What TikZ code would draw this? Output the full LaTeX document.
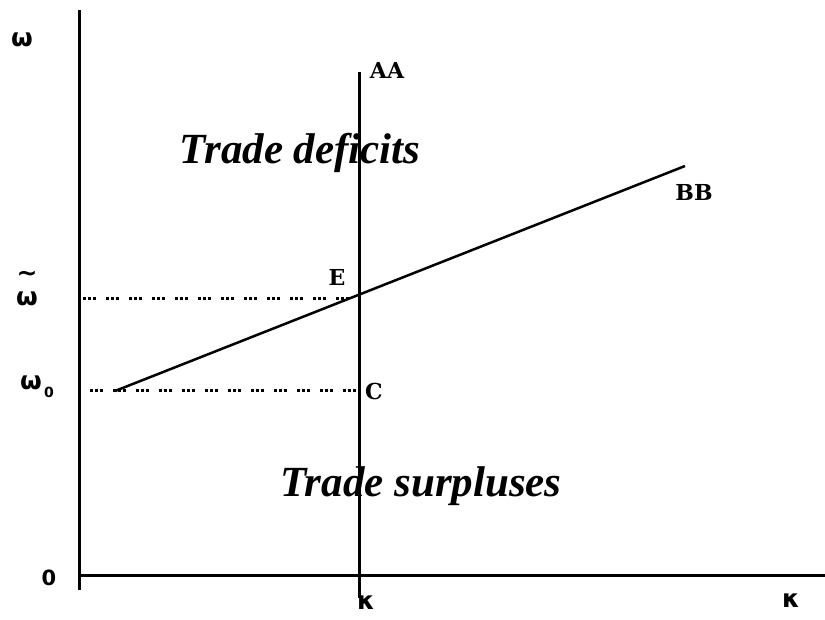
\documentclass[tikz,border=0pt]{standalone}
\usepackage{fontspec}
\setmainfont{Liberation Serif}
\newfontfamily\labfont{DejaVu Serif}
\newfontfamily\grkfont{DejaVu Sans}
\begin{document}
\begin{tikzpicture}[x=1pt,y=-1pt,
  axis/.style={line width=3pt},
  curve/.style={line width=2.5pt},
  dots/.style={line width=3pt,dash pattern=on 3pt off 2pt on 3pt off 2pt on 3pt off 10pt},
  lab/.style={font=\labfont\bfseries\fontsize{22}{22}\selectfont,inner sep=0pt},
  grk/.style={font=\grkfont\bfseries\fontsize{25}{25}\selectfont,inner sep=0pt},
  region/.style={font=\bfseries\itshape\fontsize{43}{43}\selectfont,inner sep=0pt}]
\useasboundingbox (0,0) rectangle (825,619);
% axes
\coordinate (ytop) at (79,10);
\coordinate (ybot) at (79,590);
\coordinate (xl) at (79,575);
\coordinate (xr) at (825,575);
\draw[axis] (ytop) -- (ybot);
\draw[axis] (xl) -- (xr);
% AA
\coordinate (aatop) at (359,72);
\coordinate (aabot) at (359,598);
\draw[axis] (aatop) -- (aabot);
% BB
\coordinate (bbl) at (115,391);
\coordinate (bbr) at (685,166);
\draw[curve] (bbl) -- (bbr);
% dotted lines
\coordinate (d1l) at (83,298);
\coordinate (d1r) at (359,298);
\coordinate (d2l) at (90,390);
\coordinate (d2r) at (359,390);
\draw[dots] (d1l) -- (d1r);
\draw[dots] (d2l) -- (d2r);
% labels
\node[grk] (om) at (22,40) {ω};
\node[grk] (omt) at (27,299) {ω};
\node[grk] (tl) at (27,276) {\textasciitilde};
\node[grk] (om0) at (31,383) {ω};
\node[grk,font=\grkfont\bfseries\fontsize{14}{14}\selectfont] (sub0) at (49,392) {0};
\node[grk,font=\grkfont\bfseries\fontsize{21}{21}\selectfont] (zero) at (49,578) {0};
\node[grk] (k1) at (366,603) {κ};
\node[grk] (k2) at (791,601) {κ};
\node[lab] (aa) at (387,70) {AA};
\node[lab] (bb) at (694,192) {BB};
\node[lab] (e) at (337,277) {E};
\node[lab] (c) at (374,391) {C};
\node[region] (td) at (300,153) {Trade deficits};
\node[region] (ts) at (421,486) {Trade surpluses};
\end{tikzpicture}
\end{document}
